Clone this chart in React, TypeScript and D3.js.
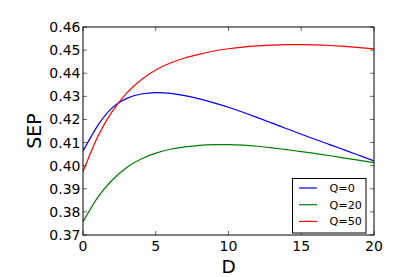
import React from "react";
import * as d3 from "d3";

const dValues = [0, 1, 2, 3, 4, 5, 6, 7, 8, 9, 10, 11, 12, 13, 14, 15, 16, 17, 18, 19, 20];
const q0 = [0.4063, 0.4172, 0.4250, 0.4291, 0.4310, 0.4316, 0.4313, 0.4303, 0.4289, 0.4272, 0.4253, 0.4231, 0.4208, 0.4184, 0.4160, 0.4136, 0.4113, 0.4090, 0.4067, 0.4044, 0.4021];
const q20 = [0.3757, 0.3862, 0.3937, 0.3992, 0.4029, 0.4054, 0.4071, 0.4081, 0.4088, 0.4091, 0.4091, 0.4089, 0.4084, 0.4077, 0.4069, 0.4061, 0.4052, 0.4043, 0.4033, 0.4023, 0.4013];
const q50 = [0.3974, 0.4124, 0.4234, 0.4314, 0.4372, 0.4414, 0.4444, 0.4466, 0.4482, 0.4496, 0.4506, 0.4513, 0.4518, 0.4522, 0.4524, 0.4524, 0.4523, 0.4520, 0.4516, 0.4511, 0.4505];
const seriesNames = ["Q=0", "Q=20", "Q=50"];
const seriesColors = ["#0000ff", "#008000", "#ff0000"];
const xTicks = [0, 5, 10, 15, 20];
const yTicks = [0.37, 0.38, 0.39, 0.4, 0.41, 0.42, 0.43, 0.44, 0.45, 0.46];

export default function App() {
  const W = 415, H = 277;
  const L = 83, R = 374, T = 27, B = 235;
  const x = d3.scaleLinear().domain([0, 20]).range([L, R]);
  const y = d3.scaleLinear().domain([0.37, 0.46]).range([B, T]);
  const line = d3
    .line<number>()
    .x((_, i) => x(dValues[i]))
    .y((v) => y(v))
    .curve(d3.curveNatural);
  const all = [q0, q20, q50];
  const font = "DejaVu Sans";
  const tl = 4;
  return (
    <svg width={W} height={H} style={{ position: "absolute", left: 0, top: 0, background: "#fff" }} fontFamily={font}>
      <rect x={0} y={0} width={W} height={H} fill="#fff" />
      <defs>
        <clipPath id="clip">
          <rect x={L} y={T} width={R - L} height={B - T} />
        </clipPath>
      </defs>
      <g clipPath="url(#clip)">
        {all.map((s, i) => (
          <path key={i} d={line(s) || ""} fill="none" stroke={seriesColors[i]} strokeWidth={1.2} />
        ))}
      </g>
      {xTicks.map((t) => (
        <g key={"x" + t}>
          <line x1={x(t)} x2={x(t)} y1={B} y2={B - tl} stroke="#000" strokeWidth={0.6} />
          <line x1={x(t)} x2={x(t)} y1={T} y2={T + tl} stroke="#000" strokeWidth={0.6} />
          <text x={x(t)} y={251} fontSize={14} textAnchor="middle" fill="#000">
            {t}
          </text>
        </g>
      ))}
      {yTicks.map((t) => (
        <g key={"y" + t}>
          <line x1={L} x2={L + tl} y1={y(t)} y2={y(t)} stroke="#000" strokeWidth={0.6} />
          <line x1={R} x2={R - tl} y1={y(t)} y2={y(t)} stroke="#000" strokeWidth={0.6} />
          <text x={80.5} y={y(t) + 5} fontSize={14} textAnchor="end" fill="#000">
            {t.toFixed(2)}
          </text>
        </g>
      ))}
      <rect x={L} y={T} width={R - L} height={B - T} fill="none" stroke="#000" strokeWidth={1} />
      <text x={(L + R) / 2} y={272.5} fontSize={18.5} textAnchor="middle" fill="#000">
        D
      </text>
      <text
        transform={`translate(40.5, ${(T + B) / 2}) rotate(-90)`}
        fontSize={19}
        textAnchor="middle"
        fill="#000"
      >
        SEP
      </text>
      <g>
        <rect x={292.5} y={178.5} width={73.5} height={54.5} fill="#fff" stroke="#000" strokeWidth={1} />
        {seriesNames.map((n, i) => {
          const yy = 188 + i * 16.7;
          return (
            <g key={n}>
              <line x1={299} x2={317} y1={yy} y2={yy} stroke={seriesColors[i]} strokeWidth={1.2} />
              <text x={329.5} y={yy + 4} fontSize={11.2} fill="#000">
                {n}
              </text>
            </g>
          );
        })}
      </g>
    </svg>
  );
}
